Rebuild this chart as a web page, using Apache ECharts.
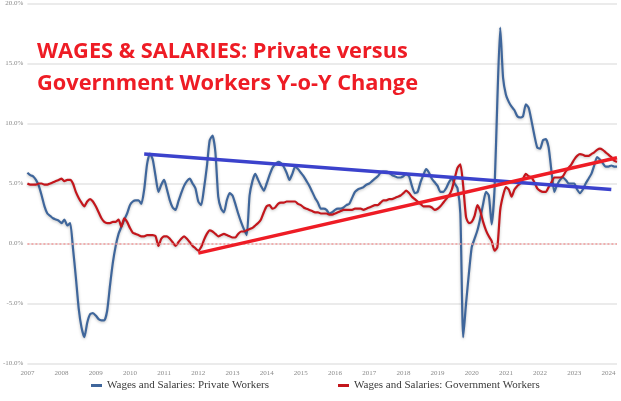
<!DOCTYPE html>
<html>
<head>
<meta charset="utf-8">
<script src="https://cdn.jsdelivr.net/npm/echarts@6/dist/echarts.min.js"></script>
<style>html,body{margin:0;padding:0;background:#fff;}#c{width:621px;height:401px;}</style>
</head>
<body>
<div id="c"></div>
<script>
// Monthly categories Jan 2007 .. Apr 2024
const startYear = 2007;
const monthCount = 208;
const categories = [];
for (let i = 0; i < monthCount; i++) {
  const y = startYear + Math.floor(i / 12);
  const m = (i % 12) + 1;
  categories.push(y + '-' + (m < 10 ? '0' + m : m));
}

// Y-o-Y % change, Wages and Salaries: Private Workers
const privateWorkers = [
  5.9, 5.7, 5.6, 5.3, 4.8, 4.0, 3.1, 2.5, 2.3, 2.1, 2.0, 1.9,
  1.7, 2.0, 1.5, 1.7, -0.4, -2.8, -5.4, -7.0, -7.8, -6.6, -5.9, -5.8,
  -6.0, -6.3, -6.4, -6.4, -5.6, -3.5, -1.6, -0.2, 0.8, 1.4, 2.0, 2.5,
  3.2, 3.5, 3.6, 3.6, 3.3, 4.5, 6.6, 7.5, 7.0, 5.6, 4.3, 4.9,
  5.3, 4.5, 3.6, 3.0, 2.8, 3.5, 4.2, 4.8, 5.2, 5.4, 5.0, 4.6,
  3.5, 3.2, 4.6, 6.4, 8.6, 9.0, 7.6, 3.9, 2.9, 2.6, 3.6, 4.2,
  4.0, 3.3, 2.5, 1.8, 1.2, 0.7, 4.0, 5.2, 5.8, 5.3, 4.8, 4.4,
  5.0, 5.7, 6.3, 6.6, 6.8, 6.7, 6.4, 5.9, 5.3, 5.8, 6.4, 6.2,
  5.9, 5.6, 5.2, 4.8, 4.3, 3.8, 3.4, 2.9, 2.9, 2.8, 2.5, 2.6,
  2.8, 2.9, 2.9, 3.0, 3.2, 3.3, 3.8, 4.3, 4.5, 4.6, 4.7, 4.9,
  5.0, 5.2, 5.4, 5.6, 5.9, 6.0, 6.0, 5.9, 5.7, 5.6, 5.5, 5.5,
  5.6, 5.8, 5.6, 4.8, 4.2, 4.3, 5.1, 5.7, 6.2, 5.9, 5.4, 5.1,
  4.8, 4.3, 4.3, 4.6, 5.1, 5.4, 5.0, 4.6, 2.5, -7.8, -5.0, -2.5,
  -0.3, 0.4, 1.1, 2.1, 3.3, 4.3, 4.0, 1.6, 4.5, 12.0, 18.0, 13.8,
  12.4, 11.8, 11.4, 11.1, 10.6, 10.5, 10.6, 11.6, 11.3, 10.2, 9.0, 8.0,
  7.9, 8.6, 8.7, 8.0, 6.0, 4.3, 4.9, 5.3, 5.5, 5.3, 5.0, 5.0,
  5.0, 4.5, 4.2, 4.5, 5.0, 5.4, 5.8, 6.5, 7.2, 7.0, 6.7, 6.4,
  6.4, 6.5, 6.4, 6.4
];

// Y-o-Y % change, Wages and Salaries: Government Workers
const governmentWorkers = [
  5.0, 4.9, 4.9, 4.9, 5.0, 5.0, 4.9, 4.9, 5.0, 5.1, 5.2, 5.3,
  5.4, 5.2, 5.3, 5.3, 5.0, 4.3, 3.8, 3.4, 3.1, 3.5, 3.7, 3.5,
  3.1, 2.6, 2.1, 1.8, 1.7, 1.7, 1.8, 1.8, 2.0, 1.4, 2.1, 1.8,
  1.3, 0.9, 0.8, 0.7, 0.6, 0.6, 0.7, 0.7, 0.7, 0.6, -0.2, 0.4,
  0.6, 0.6, 0.4, 0.1, -0.2, 0.1, 0.4, 0.6, 0.4, 0.1, -0.2, -0.4,
  -0.6, -0.3, 0.3, 0.8, 1.1, 1.0, 0.8, 0.6, 0.7, 0.8, 0.7, 0.6,
  0.5, 0.5, 0.8, 1.0, 1.0, 1.1, 1.2, 1.3, 1.5, 1.7, 2.0, 2.6,
  3.1, 3.2, 2.9, 3.0, 3.3, 3.4, 3.4, 3.5, 3.5, 3.5, 3.5, 3.3,
  3.2, 3.0, 2.9, 2.8, 2.7, 2.6, 2.6, 2.5, 2.5, 2.5, 2.4, 2.4,
  2.5, 2.6, 2.7, 2.8, 2.8, 2.8, 2.8, 2.9, 2.9, 2.9, 2.8, 2.9,
  3.0, 3.1, 3.2, 3.2, 3.4, 3.6, 3.6, 3.7, 3.7, 3.8, 3.9, 4.0,
  4.2, 4.4, 4.2, 3.9, 3.7, 3.5, 3.3, 3.1, 3.1, 3.1, 3.0, 2.8,
  2.9, 3.1, 3.4, 3.7, 4.0, 4.5, 5.4, 6.3, 6.6, 4.8, 2.2, 1.7,
  1.8, 2.3, 3.2, 2.7, 1.8, 1.1, 0.6, 0.2, -0.6, -0.3, 2.8, 4.0,
  4.7, 4.5, 3.9, 4.5, 4.8, 5.0, 5.4, 5.8, 5.6, 5.5, 5.1, 4.6,
  4.4, 4.3, 4.3, 4.7, 5.1, 5.5, 5.5, 5.5, 5.6, 6.0, 6.3, 6.6,
  7.0, 7.3, 7.45, 7.4, 7.3, 7.3, 7.45, 7.6, 7.8, 7.9, 7.8, 7.6,
  7.4, 7.2, 6.9, 6.8
];

// Hand-drawn trend lines: [month index, value] endpoints
const privateTrend = [[41, 7.45], [205, 4.5]];
const governmentTrend = [[60, -0.8], [207, 7.15]];

const yTicks = { min: -10, max: 20, interval: 5 };

const titleLines = ['WAGES & SALARIES: Private versus', 'Government Workers Y-o-Y Change'];
const legendNames = ['Wages and Salaries: Private Workers', 'Wages and Salaries: Government Workers'];

const chart = echarts.init(document.getElementById('c'), null, { renderer: 'canvas' });
const serif = '"Liberation Serif", "DejaVu Serif", serif';
chart.setOption({
  animation: false,
  backgroundColor: '#ffffff',
  title: {
    text: titleLines.join('\n'),
    left: 32, top: 31,
    textStyle: { color: '#ee1c25', fontSize: 21.8, fontWeight: 'bold', fontFamily: '"Open Sans", "Noto Sans", sans-serif', lineHeight: 32 }
  },
  legend: [
    { data: [legendNames[0]], left: 86, top: 375, icon: 'rect', itemWidth: 11, itemHeight: 3,
      textStyle: { fontFamily: serif, fontSize: 11, color: '#3a3a3a' } },
    { data: [legendNames[1]], left: 333, top: 375, icon: 'rect', itemWidth: 11, itemHeight: 3,
      textStyle: { fontFamily: serif, fontSize: 11, color: '#3a3a3a' } }
  ],
  grid: { left: 21, right: 4, top: 0, bottom: 37.5, containLabel: false },
  xAxis: {
    type: 'category', data: categories, boundaryGap: false,
    axisLine: { show: false }, axisTick: { show: false },
    axisLabel: {
      interval: function (i) { return i % 12 === 0; },
      formatter: function (v) { return v.slice(0, 4); },
      fontFamily: serif, fontSize: 7, color: '#8a8a8a', margin: 6
    },
    splitLine: { show: false }
  },
  yAxis: {
    type: 'value', min: yTicks.min, max: yTicks.max, interval: yTicks.interval,
    axisLine: { show: false }, axisTick: { show: false },
    axisLabel: { formatter: function (v) { return v.toFixed(1) + '%'; }, fontFamily: serif, fontSize: 7, color: '#8a8a8a', margin: 4 },
    splitLine: { lineStyle: { color: '#ebebeb', width: 2 } }
  },
  series: [
    {
      name: legendNames[0], type: 'line', data: privateWorkers, symbol: 'none', smooth: 0.2,
      itemStyle: { color: '#3f669b' },
      lineStyle: { color: '#3f669b', width: 2.2, shadowColor: 'rgba(0,0,0,0.25)', shadowBlur: 3, shadowOffsetY: 1 },
      z: 2
    },
    {
      name: legendNames[1], type: 'line', data: governmentWorkers, symbol: 'none', smooth: 0.2,
      itemStyle: { color: '#c3161c' },
      lineStyle: { color: '#c3161c', width: 2.2, shadowColor: 'rgba(0,0,0,0.25)', shadowBlur: 3, shadowOffsetY: 1 },
      markLine: {
        silent: true, symbol: 'none', label: { show: false },
        lineStyle: { color: '#f29a9a', type: [2, 2], width: 1.5 },
        data: [{ yAxis: 0 }]
      },
      z: 3
    },
    {
      name: 'privateTrend', type: 'line', data: privateTrend, symbol: 'none',
      lineStyle: { color: '#3b42cc', width: 3.5 }, z: 5
    },
    {
      name: 'governmentTrend', type: 'line', data: governmentTrend, symbol: 'none',
      lineStyle: { color: '#ee1c25', width: 3.5 }, z: 6
    }
  ]
});
</script>
</body>
</html>
